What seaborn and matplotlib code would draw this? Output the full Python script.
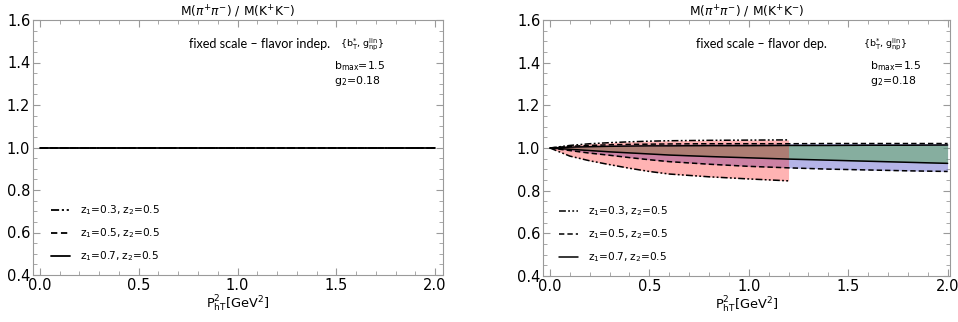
import numpy as np
import pandas as pd
import matplotlib
matplotlib.use("Agg")
import matplotlib.pyplot as plt
import seaborn as sns
from matplotlib.ticker import MultipleLocator, FormatStrFormatter

# ---------------- data ----------------
P_all = [0.0, 0.1, 0.2, 0.3, 0.4, 0.5, 0.6, 0.8, 1.0, 1.2, 1.4, 1.6, 1.8, 2.0]
P_red = [0.0, 0.1, 0.2, 0.3, 0.4, 0.5, 0.6, 0.8, 1.0, 1.2]

# left panel (flavor indep.): ratio identically 1 for all z1
left_ratio = [1.0] * len(P_all)

# right panel (flavor dep.) band edges
z03_upper = [1.0, 1.012, 1.020, 1.025, 1.029, 1.032, 1.034, 1.036, 1.037, 1.038]
z03_lower = [1.0, 0.962, 0.940, 0.922, 0.905, 0.890, 0.878, 0.865, 0.855, 0.846]
z05_upper = [1.0, 1.008, 1.012, 1.015, 1.017, 1.018, 1.019, 1.020, 1.020, 1.020, 1.021, 1.021, 1.021, 1.021]
z05_lower = [1.0, 0.988, 0.976, 0.966, 0.955, 0.945, 0.936, 0.924, 0.914, 0.907, 0.901, 0.897, 0.893, 0.890]
z07_upper = [1.0, 1.004, 1.006, 1.008, 1.009, 1.010, 1.010, 1.011, 1.011, 1.012, 1.012, 1.013, 1.013, 1.014]
z07_lower = [1.0, 0.994, 0.988, 0.982, 0.977, 0.972, 0.967, 0.960, 0.954, 0.948, 0.943, 0.938, 0.933, 0.928]

labels = [r"z$_1$=0.3, z$_2$=0.5", r"z$_1$=0.5, z$_2$=0.5", r"z$_1$=0.7, z$_2$=0.5"]
panel_texts = ["fixed scale \u2013 flavor indep.", "fixed scale \u2013 flavor dep."]

# ---------------- style ----------------
sns.set_theme(style="ticks")
plt.rcParams["font.family"] = ["DejaVu Sans"]
plt.rcParams["mathtext.fontset"] = "dejavusans"
plt.rcParams["text.color"] = "black"
plt.rcParams["axes.labelcolor"] = "black"

DASHDOT = (0, (4.5, 1.5, 1.2, 1.5, 1.2, 1.5))
DASHED = (0, (3.5, 2.0))
SOLID = "-"
styles = [DASHDOT, DASHED, SOLID]
FRAME = "#9a9a9a"

fig = plt.figure(figsize=(9.58, 3.22), dpi=100)
axL = fig.add_axes([33 / 958, 47 / 322, 410 / 958, 255 / 322])
axR = fig.add_axes([543 / 958, 46 / 322, 407 / 958, 256 / 322])


def frame(ax, xmax):
    ax.set_xlim(-0.035, xmax)
    ax.set_ylim(0.4, 1.6)
    ax.xaxis.set_major_locator(MultipleLocator(0.5))
    ax.xaxis.set_minor_locator(MultipleLocator(0.1))
    ax.yaxis.set_major_locator(MultipleLocator(0.2))
    ax.yaxis.set_minor_locator(MultipleLocator(0.05))
    ax.xaxis.set_major_formatter(FormatStrFormatter("%.1f"))
    ax.yaxis.set_major_formatter(FormatStrFormatter("%.1f"))
    for s in ax.spines.values():
        s.set_color(FRAME)
        s.set_linewidth(0.8)
        s.set_visible(True)
    ax.tick_params(which="both", direction="in", top=True, right=True,
                   color=FRAME, labelsize=10.5, labelcolor="black", pad=2)
    ax.tick_params(which="major", length=5, width=0.8)
    ax.tick_params(which="minor", length=2.8, width=0.6)
    ax.set_xlabel(r"P$^2_{\mathrm{hT}}$[GeV$^2$]", fontsize=9.3, labelpad=1)
    ax.set_ylabel("")
    ax.set_title(r"M($\pi^{+}\pi^{-}$) / M(K$^{+}$K$^{-}$)", fontsize=8.8, pad=3)
    ax.set_facecolor("white")


# ---------------- left panel ----------------
for ls, lab in zip(styles, labels):
    sns.lineplot(x=P_all, y=left_ratio, ax=axL, color="black", linestyle=ls,
                 linewidth=1.3, label=lab)
frame(axL, 2.04)

# ---------------- right panel ----------------
axR.fill_between(P_all, z05_lower, z05_upper, color="#6a6ad0", alpha=0.5, linewidth=0)
axR.fill_between(P_all, z07_lower, z07_upper, color="#43a735", alpha=0.4, linewidth=0)
axR.fill_between(P_red, z03_lower, z03_upper, color="#ff1a1a", alpha=0.33, linewidth=0)

curves = [(P_red, z03_upper, z03_lower), (P_all, z05_upper, z05_lower), (P_all, z07_upper, z07_lower)]
for (xs, up, lo), ls, lab in zip(curves, styles, labels):
    sns.lineplot(x=xs, y=up, ax=axR, color="black", linestyle=ls, linewidth=1.1, label=lab)
    sns.lineplot(x=xs, y=lo, ax=axR, color="black", linestyle=ls, linewidth=1.1)
frame(axR, 2.012)

# ---------------- annotations / legends ----------------
pos = {
    "L": dict(main=0.724, curly=0.749, par=0.734),
    "R": dict(main=0.698, curly=0.786, par=0.803),
}
for ax, txt, key in [(axL, panel_texts[0], "L"), (axR, panel_texts[1], "R")]:
    p = pos[key]
    ax.text(p["main"], 0.905, txt, transform=ax.transAxes, ha="right", va="center",
            fontsize=9.1, family=["Lato", "DejaVu Sans"])
    ax.text(p["curly"], 0.905, r"{b$_{\mathrm{T}}^{*}$, g$_{\mathrm{np}}^{\mathrm{lin}}$}",
            transform=ax.transAxes, ha="left", va="center", fontsize=6.8)
    ax.text(p["par"], 0.82, r"b$_{\mathrm{max}}$=1.5", transform=ax.transAxes,
            ha="left", va="center", fontsize=7.8)
    ax.text(p["par"], 0.76, r"g$_2$=0.18", transform=ax.transAxes,
            ha="left", va="center", fontsize=7.8)

for ax, bx in ((axL, 0.025), (axR, 0.02)):
    handles, labs = ax.get_legend_handles_labels()
    ax.legend(handles[:3], labs[:3], loc="lower left", bbox_to_anchor=(bx, 0.018),
              frameon=False, fontsize=7.6, handlelength=1.8, handletextpad=0.95,
              labelspacing=0.85, borderaxespad=0.3)

fig.savefig("out.png", dpi=100)
